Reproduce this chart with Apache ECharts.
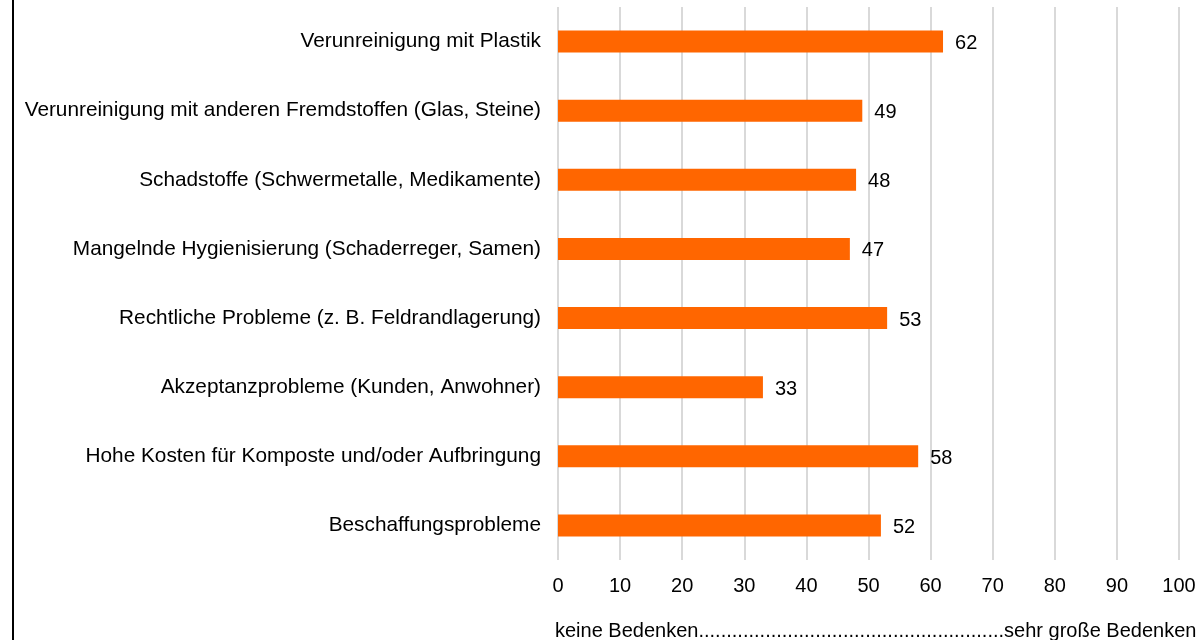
<!DOCTYPE html>
<html>
<head>
<meta charset="utf-8">
<script src="https://cdn.jsdelivr.net/npm/echarts@6/dist/echarts.min.js"></script>
<style>
html,body{margin:0;padding:0;background:#fff;}
#c{width:1199px;height:640px;}
</style>
</head>
<body>
<div id="c"></div>
<script>
const categories = [
  "Verunreinigung mit Plastik",
  "Verunreinigung mit anderen Fremdstoffen (Glas, Steine)",
  "Schadstoffe (Schwermetalle, Medikamente)",
  "Mangelnde Hygienisierung (Schaderreger, Samen)",
  "Rechtliche Probleme (z. B. Feldrandlagerung)",
  "Akzeptanzprobleme (Kunden, Anwohner)",
  "Hohe Kosten für Komposte und/oder Aufbringung",
  "Beschaffungsprobleme"
];
const values = [62, 49, 48, 47, 53, 33, 58, 52];
const axisTitle = "keine Bedenken.......................................................sehr große Bedenken";

const font = "'Liberation Sans', Arial, sans-serif";
const chart = echarts.init(document.getElementById('c'));
chart.setOption({
  animation: false,
  backgroundColor: '#fff',
  grid: { left: 558, right: 20, top: 7, bottom: 80, containLabel: false },
  xAxis: {
    type: 'value', min: 0, max: 100, interval: 10,
    axisLine: { show: false }, axisTick: { show: false },
    splitLine: { show: true, lineStyle: { color: '#d9d9d9', width: 2 } },
    axisLabel: { color: '#000', fontSize: 20, fontFamily: font, margin: 16 }
  },
  yAxis: {
    type: 'category', data: categories, inverse: true,
    axisLine: { show: false }, axisTick: { show: false },
    axisLabel: { color: '#000', fontSize: 20.8, fontFamily: font, margin: 17 }
  },
  series: [{
    type: 'bar', data: values, barWidth: 22,
    itemStyle: { color: '#FF6600' },
    label: { show: true, position: 'right', distance: 12, offset: [0, 2], color: '#000', fontSize: 20, fontFamily: font }
  }],
  graphic: [
    { type: 'line', shape: { x1: 13, y1: 0, x2: 13, y2: 640 }, style: { stroke: '#000', lineWidth: 2 } },
    { type: 'text', left: 555, top: 621, style: { text: axisTitle, fill: '#000', font: '20px ' + font } }
  ]
});
</script>
</body>
</html>
